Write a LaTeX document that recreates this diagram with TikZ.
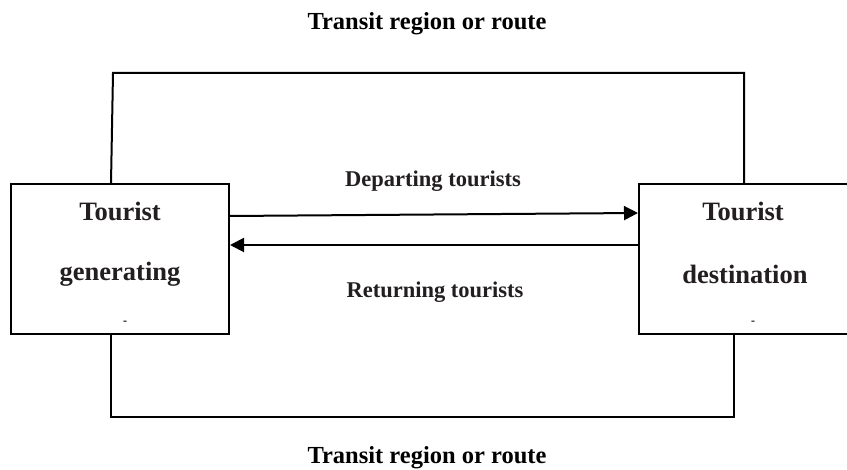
\documentclass[tikz,border=0pt]{standalone}
\usepackage{fontspec}
\setmainfont{Liberation Serif}
\usetikzlibrary{arrows.meta}
\definecolor{ink}{HTML}{231F20}
\begin{document}
\begin{tikzpicture}[x=1pt,y=-1pt,
  region/.style={draw=black,line width=2pt,minimum height=150pt,inner sep=0pt},
  lbl/.style={font=\fontsize{22.5}{27}\selectfont\bfseries,text=ink,inner sep=0pt},
  boxlbl/.style={lbl,font=\fontsize{26.5}{31}\selectfont\bfseries},
  translbl/.style={lbl,font=\fontsize{24.5}{29}\selectfont\bfseries,text=black},
  link/.style={line width=2pt},
  flow/.style={line width=2pt,-{Triangle[length=14pt,width=14pt]}},
  tick/.style={font=\fontsize{12}{14}\selectfont\bfseries,inner sep=0pt}]
\useasboundingbox (0,0) rectangle (847,470);
\clip (0,0) rectangle (847,470);
\fill[white] (0,0) rectangle (847,470);

% generating and destination regions
\node[region,minimum width=218pt] (gen) at (120,259) {};
\node[region,minimum width=231pt] (dest) at (754.5,259) {};
\node[boxlbl] (gen1) at (120,211) {Tourist};
\node[boxlbl] (gen2) at (120,274) {generating};
\node[boxlbl] (dest1) at (743,211) {Tourist};
\node[boxlbl] (dest2) at (745,274) {destination};
\node[tick] (gent) at (125,323) {-};
\node[tick] (destt) at (753,323) {-};

% transit region, above and below
\coordinate (tl) at (113,73);
\coordinate (tr) at (744,73);
\coordinate (bl) at (111,417);
\coordinate (br) at (734,417);
\draw[link] ([xshift=-9pt]gen.north) -- (tl) -- (tr) -- ([xshift=-10.5pt]dest.north);
\draw[link] ([xshift=-9pt]gen.south) -- (bl) -- (br) -- ([xshift=-20.5pt]dest.south);
\node[translbl] (ttop) at (427,24) {Transit region or route};
\node[translbl] (tbot) at (427,458) {Transit region or route};

% tourist flows
\draw[flow] ([yshift=43pt]gen.east) -- ([yshift=46pt]dest.west);
\draw[flow] ([yshift=14pt]dest.west) -- ([yshift=14pt]gen.east);
\node[lbl] (dep) at (433,181) {Departing tourists};
\node[lbl] (ret) at (435,292) {Returning tourists};
\end{tikzpicture}
\end{document}
